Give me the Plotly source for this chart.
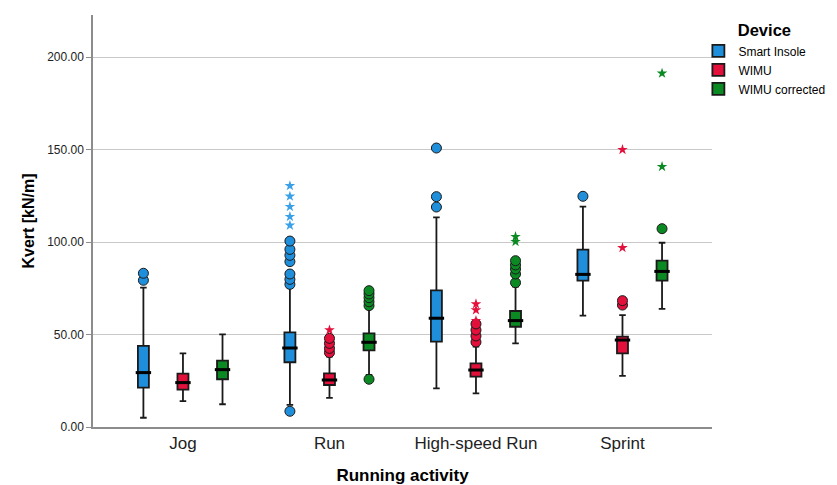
import plotly.graph_objects as go

# ---------------- data ----------------
categories = ["Jog", "Run", "High-speed Run", "Sprint"]
devices = ["Smart Insole", "WIMU", "WIMU corrected"]

# Smart Insole
si_low = [5.0, 12.0, 20.9, 60.2]
si_q1 = [21.3, 35.0, 46.1, 79.1]
si_med = [29.4, 42.7, 58.8, 82.5]
si_q3 = [43.8, 51.2, 73.9, 95.9]
si_high = [75.3, 75.5, 113.3, 119.1]
si_out = [[79.3, 83.1],
          [8.5, 77.1, 79.8, 82.7, 89.4, 92.8, 96.0, 100.5],
          [118.9, 124.5, 150.8],
          [124.7]]
si_ext = [[], [109.0, 113.7, 119.1, 124.7, 130.4], [], []]

# WIMU
wi_low = [14.0, 15.7, 18.2, 27.6]
wi_q1 = [20.2, 22.7, 27.2, 39.8]
wi_med = [24.0, 25.4, 30.8, 47.0]
wi_q3 = [28.8, 29.0, 34.4, 48.8]
wi_high = [39.8, 38.0, 43.4, 60.5]
wi_out = [[], [40.2, 42.5, 45.2, 47.9], [45.9, 49.2, 52.4, 55.7], [65.9, 68.3]]
wi_ext = [[], [52.4], [57.5, 63.2, 66.5], [96.9, 149.9]]

# WIMU corrected
wc_low = [12.3, 28.1, 45.2, 63.8]
wc_q1 = [25.8, 41.4, 54.2, 79.1]
wc_med = [31.0, 45.8, 57.5, 84.1]
wc_q3 = [35.9, 50.6, 62.7, 89.9]
wc_high = [50.1, 64.1, 75.9, 99.6]
wc_out = [[], [25.8, 65.6, 67.7, 69.9, 71.9, 73.7], [78.0, 82.7, 85.4, 87.6, 89.9], [107.2]]
wc_ext = [[], [], [100.2, 102.9], [140.7, 191.2]]

y_ticks = [0, 50, 100, 150, 200]

# ---------------- style ----------------
fills = ["#1f8fdc", "#e3103c", "#0b8a24"]
star_cols = ["#3aa0e8", "#e3103c", "#0b8a24"]
offsets = [-0.27, 0.0, 0.27]
box_w = 0.075
font = "Liberation Sans, Arial, sans-serif"

stats = [
    (si_low, si_q1, si_med, si_q3, si_high, si_out, si_ext),
    (wi_low, wi_q1, wi_med, wi_q3, wi_high, wi_out, wi_ext),
    (wc_low, wc_q1, wc_med, wc_q3, wc_high, wc_out, wc_ext),
]

fig = go.Figure()
idx = list(range(len(categories)))

for j, (name, st) in enumerate(zip(devices, stats)):
    low, q1, med, q3, high, outs, exts = st
    xs = [i + offsets[j] for i in idx]
    fig.add_trace(go.Box(
        name=name, x=xs, q1=q1, median=med, q3=q3,
        lowerfence=low, upperfence=high,
        boxpoints=False, width=box_w, whiskerwidth=0.6,
        fillcolor=fills[j], line=dict(color="#1a1a1a", width=1.8),
        hoverinfo="skip",
    ))

for j, (name, st) in enumerate(zip(devices, stats)):
    low, q1, med, q3, high, outs, exts = st
    xs = [i + offsets[j] for i in idx]
    # median
    fig.add_trace(go.Scatter(
        x=xs, y=med, mode="markers", showlegend=False, hoverinfo="skip",
        marker=dict(symbol="line-ew", size=11, line=dict(color="#000000", width=3)),
    ))
    # outliers
    ox, oy = [], []
    for i in idx:
        for v in outs[i]:
            ox.append(i + offsets[j]); oy.append(v)
    fig.add_trace(go.Scatter(
        x=ox, y=oy, mode="markers", showlegend=False, hoverinfo="skip",
        marker=dict(symbol="circle", size=10, color=fills[j],
                    line=dict(color="#1a1a1a", width=1)),
    ))
    ex, ey = [], []
    for i in idx:
        for v in exts[i]:
            ex.append(i + offsets[j]); ey.append(v)
    fig.add_trace(go.Scatter(
        x=ex, y=ey, mode="markers", showlegend=False, hoverinfo="skip",
        marker=dict(symbol="star", size=8, color=star_cols[j], line=dict(width=0)),
    ))

fig.update_layout(
    width=829, height=477,
    margin=dict(l=85, r=125, t=7, b=58, autoexpand=False),
    paper_bgcolor="white", plot_bgcolor="white",
    font=dict(family=font, color="#000000"),
    showlegend=True,
    legend=dict(
        title=dict(text="<b>Device</b>", font=dict(size=16.5), side="top center"),
        x=0.978, xanchor="left", y=1.0, yanchor="top",
        font=dict(size=12), bgcolor="rgba(0,0,0,0)", tracegroupgap=0,
    ),
    xaxis=dict(
        range=[-0.614, 3.611], tickvals=idx, ticktext=categories,
        showgrid=False, zeroline=False, showline=True, automargin=False,
        linecolor="#8c8c8c", linewidth=1.5, ticks="",
        tickfont=dict(size=17, color="#222222"),
        title=dict(text="<b>Running activity</b>", font=dict(size=17), standoff=20),
    ),
    yaxis=dict(
        range=[0, 222.7], tickvals=y_ticks, tickformat=".2f",
        showgrid=True, gridcolor="#c8c8c8", gridwidth=1.2, automargin=False,
        zeroline=False, showline=True, linecolor="#8c8c8c", linewidth=1.5,
        ticks="outside", ticklen=5, tickcolor="#8c8c8c",
        tickfont=dict(size=12, color="#222222"),
        title=dict(text="<b>Kvert [kN/m]</b>", font=dict(size=16), standoff=9),
    ),
)

fig.write_html("out.html")
